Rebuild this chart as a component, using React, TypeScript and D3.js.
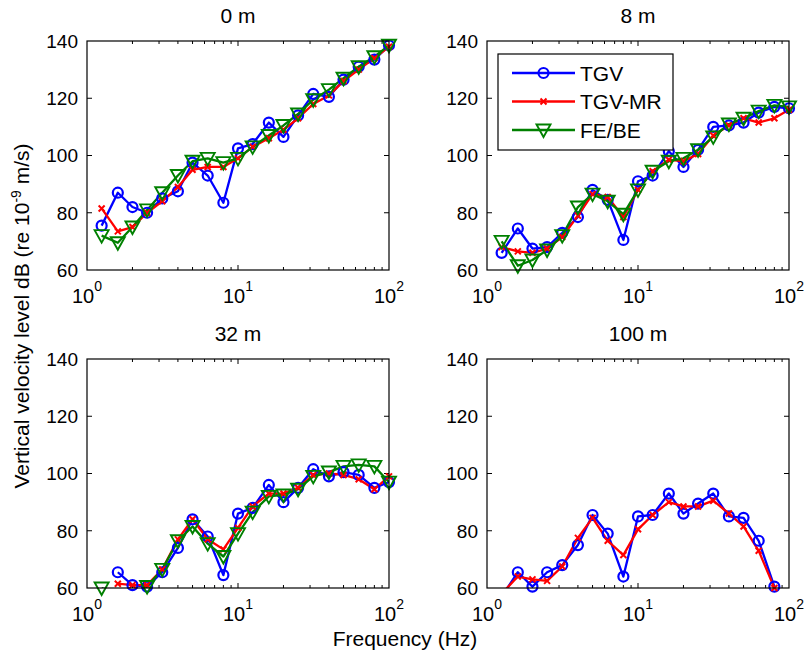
import React, { useEffect, useRef } from 'react';
import * as d3 from 'd3';

// third-octave centre frequencies (Hz)
const FREQ = [1.25, 1.6, 2, 2.5, 3.15, 4, 5, 6.3, 8, 10, 12.5, 16, 20, 25, 31.5, 40, 50, 63, 80, 100];

// 0 m
const TGV_0 = [75.5, 87, 82, 80, 85, 87.5, 97.5, 93, 83.5, 102.5, 104, 111.5, 106.5, 114, 121.5, 120.5, 126.5, 131, 133.5, 138.5];
const TGVMR_0 = [81.5, 73.5, 75, 80, 84, 89, 95, 96, 96, 99, 103, 106, 109, 113, 118, 121, 126, 130, 134, 138];
const FEBE_0 = [72, 69.5, 75, 81, 87, 93, 98, 99, 97.5, 99, 103, 107, 110.5, 114.5, 119.5, 123, 127, 131, 134.5, 138.5];

// 8 m
const TGV_8 = [66, 74.5, 67.5, 68, 73, 78.5, 88, 84.5, 70.5, 91, 93, 101.5, 96, 102, 110, 110.5, 111.5, 115, 117, 116.5];
const TGVMR_8 = [68, 66.5, 66, 67.5, 71.5, 79, 86.5, 85.5, 78.5, 88, 94.5, 98.5, 98, 100.5, 107, 110.5, 113, 111.5, 113, 116];
const FEBE_8 = [70, 61.5, 63.5, 67, 72, 82, 86.5, 84, 79.5, 88, 94.5, 98, 99, 102, 106.5, 111, 113, 115.5, 117.5, 117];

// 32 m
const TGV_32 = [null, 65.5, 61, 60.5, 65.5, 74, 84, 78, 64.5, 86, 88, 96, 90, 95, 101.5, 99, 100.5, 99.5, 95, 97];
const TGVMR_32 = [null, 61.5, 61, 61, 66.5, 77, 84, 77, 73.5, 81, 88.5, 93, 93, 95, 99.5, 100, 99.5, 98, 94.5, 99];
const FEBE_32 = [60, 58, 58, 60.5, 66.5, 76.5, 81.5, 75.5, 71, 79, 86.5, 92, 92.5, 94.5, 99, 100.5, 102.5, 103, 102.5, 97];

// 100 m (no FE/BE result)
const TGV_100 = [57, 65.5, 60.5, 65.5, 68, 75, 85.5, 79, 64, 85, 85.5, 93, 86, 89.5, 93, 85, 84.5, 76.5, 60.5, null];
const TGVMR_100 = [58, 64, 63, 62.5, 67.5, 77.5, 84.5, 76.5, 71.5, 80.5, 85.5, 90, 88.5, 88.5, 90.5, 86, 81.5, 73, 60, null];

const Y_TICKS = [60, 80, 100, 120, 140];
const X_TICKS = [1, 10, 100];
const X_EXP = ['0', '1', '2'];

const SERIES = [
  { name: 'TGV', color: '#0000ff', marker: 'o' },
  { name: 'TGV-MR', color: '#ff0000', marker: 'x' },
  { name: 'FE/BE', color: '#008000', marker: 'v' },
];

const PANELS = [
  { title: '0 m', left: 87, top: 41, data: [TGV_0, TGVMR_0, FEBE_0], legend: false },
  { title: '8 m', left: 487, top: 41, data: [TGV_8, TGVMR_8, FEBE_8], legend: true },
  { title: '32 m', left: 87, top: 359, data: [TGV_32, TGVMR_32, FEBE_32], legend: false },
  { title: '100 m', left: 487, top: 359, data: [TGV_100, TGVMR_100], legend: false },
];

const W = 302;
const H = 229;
const FONT = '"Liberation Sans", Arial, sans-serif';

function drawMarker(g, type, color, x, y) {
  if (type === 'o') {
    g.append('circle').attr('cx', x).attr('cy', y).attr('r', 5)
      .attr('fill', 'none').attr('stroke', color).attr('stroke-width', 2.2);
  } else if (type === 'x') {
    const s = 3;
    g.append('path')
      .attr('d', `M${x - s},${y - s}L${x + s},${y + s}M${x - s},${y + s}L${x + s},${y - s}`)
      .attr('stroke', color).attr('stroke-width', 2).attr('fill', 'none');
  } else {
    g.append('path')
      .attr('d', `M${x - 7},${y - 5.5}L${x + 7},${y - 5.5}L${x},${y + 7}Z`)
      .attr('fill', 'none').attr('stroke', color).attr('stroke-width', 1.9);
  }
}

export default function App() {
  const svgRef = useRef(null);

  useEffect(() => {
    const svg = d3.select(svgRef.current);
    svg.selectAll('*').remove();
    svg.append('rect').attr('width', 808).attr('height', 656).attr('fill', '#fff');

    const defs = svg.append('defs');

    PANELS.forEach((p, pi) => {
      const x = d3.scaleLog().domain([1, 100]).range([0, W]);
      const y = d3.scaleLinear().domain([60, 140]).range([H, 0]);
      const g = svg.append('g').attr('transform', `translate(${p.left},${p.top})`);

      defs.append('clipPath').attr('id', `clip${pi}`)
        .append('rect').attr('width', W).attr('height', H);

      // title
      g.append('text').attr('x', W / 2).attr('y', -18)
        .attr('text-anchor', 'middle').attr('font-family', FONT).attr('font-size', 21)
        .text(p.title);

      // ticks (inside, both sides)
      const tk = g.append('g').attr('stroke', '#000').attr('stroke-width', 1);
      Y_TICKS.slice(1, -1).forEach(v => {
        tk.append('line').attr('x1', 0).attr('x2', 5).attr('y1', y(v)).attr('y2', y(v));
        tk.append('line').attr('x1', W).attr('x2', W - 5).attr('y1', y(v)).attr('y2', y(v));
      });
      const minor = [];
      [1, 10].forEach(d => { for (let k = 2; k <= 9; k++) minor.push(d * k); });
      minor.forEach(v => {
        tk.append('line').attr('x1', x(v)).attr('x2', x(v)).attr('y1', H).attr('y2', H - 3);
        tk.append('line').attr('x1', x(v)).attr('x2', x(v)).attr('y1', 0).attr('y2', 3);
      });
      tk.append('line').attr('x1', x(10)).attr('x2', x(10)).attr('y1', H).attr('y2', H - 5);
      tk.append('line').attr('x1', x(10)).attr('x2', x(10)).attr('y1', 0).attr('y2', 5);

      // tick labels
      Y_TICKS.forEach(v => {
        g.append('text').attr('x', -9).attr('y', y(v)).attr('dy', '0.36em')
          .attr('text-anchor', 'end').attr('font-family', FONT).attr('font-size', 19)
          .text(v);
      });
      X_TICKS.forEach((v, i) => {
        const t = g.append('text').attr('x', x(v)).attr('y', H + 33)
          .attr('text-anchor', 'middle').attr('font-family', FONT).attr('font-size', 20);
        t.append('tspan').text('10');
        t.append('tspan').attr('dy', -12).attr('font-size', 14).text(X_EXP[i]);
      });

      // series
      const lines = g.append('g').attr('clip-path', `url(#clip${pi})`);
      const marks = g.append('g');
      p.data.forEach((vals, si) => {
        const s = SERIES[si];
        const pts = FREQ.map((f, i) => [f, vals[i]]);
        const line = d3.line()
          .defined(d => d[1] != null)
          .x(d => x(d[0]))
          .y(d => y(d[1]));
        lines.append('path').attr('d', line(pts))
          .attr('fill', 'none').attr('stroke', s.color).attr('stroke-width', 2.3)
          .attr('stroke-linejoin', 'round');
        const mg = marks.append('g');
        pts.forEach(d => {
          if (d[1] == null || d[1] < 60 || d[1] > 140) return;
          drawMarker(mg, s.marker, s.color, x(d[0]), y(d[1]));
        });
      });

      // axes box
      g.append('rect').attr('width', W).attr('height', H)
        .attr('fill', 'none').attr('stroke', '#000').attr('stroke-width', 1.2);

      // legend
      if (p.legend) {
        const lg = g.append('g').attr('transform', 'translate(11,13)');
        lg.append('rect').attr('width', 175).attr('height', 96)
          .attr('fill', '#fff').attr('stroke', '#000').attr('stroke-width', 1.2);
        SERIES.forEach((s, i) => {
          const ly = 19 + i * 28.5;
          lg.append('line').attr('x1', 14).attr('x2', 77).attr('y1', ly).attr('y2', ly)
            .attr('stroke', s.color).attr('stroke-width', 2.3);
          drawMarker(lg, s.marker, s.color, 45.5, ly);
          lg.append('text').attr('x', 82).attr('y', ly).attr('dy', '0.36em')
            .attr('font-family', FONT).attr('font-size', 21).text(s.name);
        });
      }
    });

    // axis labels
    svg.append('text').attr('x', 405).attr('y', 646).attr('text-anchor', 'middle')
      .attr('font-family', FONT).attr('font-size', 21).text('Frequency (Hz)');

    const yl = svg.append('text').attr('transform', 'translate(29,316) rotate(-90)')
      .attr('text-anchor', 'middle').attr('font-family', FONT).attr('font-size', 21);
    yl.append('tspan').text('Vertical velocity level dB (re 10');
    yl.append('tspan').attr('dy', -8).attr('font-size', 14).text('-9');
    yl.append('tspan').attr('dy', 8).text(' m/s)');
  }, []);

  return (
    <svg ref={svgRef} width={808} height={656}
      style={{ position: 'absolute', left: 0, top: 0, background: '#fff' }} />
  );
}
